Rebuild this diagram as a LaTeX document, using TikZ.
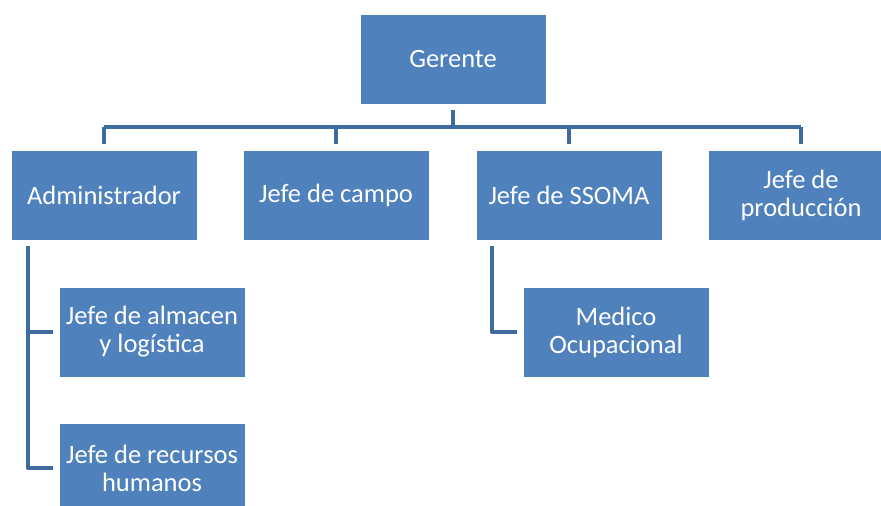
\documentclass[tikz,border=0pt]{standalone}
\usepackage{fontspec}
\setmainfont{Carlito}
\usepackage{xcolor}
\usepackage{tikz}
\definecolor{boxblue}{HTML}{4F81BD}
\definecolor{lineblue}{HTML}{3F6C9F}

\begin{document}
\begin{tikzpicture}[x=1pt,y=-1pt,
    puesto/.style={rectangle,fill=boxblue,draw=white,line width=0.6pt,
      minimum width=186pt,minimum height=90pt,inner sep=0pt,outer sep=6pt,
      text=white,align=center,font=\fontsize{26.5}{28}\selectfont},
    enlace/.style={draw=lineblue,line width=4pt,line join=round}]
    \useasboundingbox (0,0) rectangle (881,506);
    \clip (0,0) rectangle (881,506);
    %
    \node[puesto] (ger) at (453,59) {Gerente};
    \node[puesto] (adm) at (104,195) {Administrador};
    \node[puesto] (cam) at (336,195) {Jefe de campo};
    \node[puesto] (sso) at (569,195) {Jefe de SSOMA};
    \node[puesto] (pro) at (801,195) {Jefe de\\producción};
    \node[puesto] (alm) at (152,332) {Jefe de almacen\\y logística};
    \node[puesto] (rrh) at (152,468) {Jefe de recursos\\humanos};
    \node[puesto] (med) at (616,332) {Medico\\Ocupacional};
    %
    \coordinate (barra) at (0,127);
    \coordinate (tadm) at (28,0);
    \coordinate (tsso) at (492,0);
    \path[enlace] (ger.south) -- (ger |- barra);
    \path[enlace] (adm |- barra) -- (pro |- barra);
    \foreach \n in {adm,cam,sso,pro}
      \path[enlace] (\n |- barra) -- (\n.north);
    \path[enlace] (adm.south -| tadm) |- (alm.west);
    \path[enlace] (adm.south -| tadm) |- (rrh.west);
    \path[enlace] (sso.south -| tsso) |- (med.west);
\end{tikzpicture}
\end{document}
